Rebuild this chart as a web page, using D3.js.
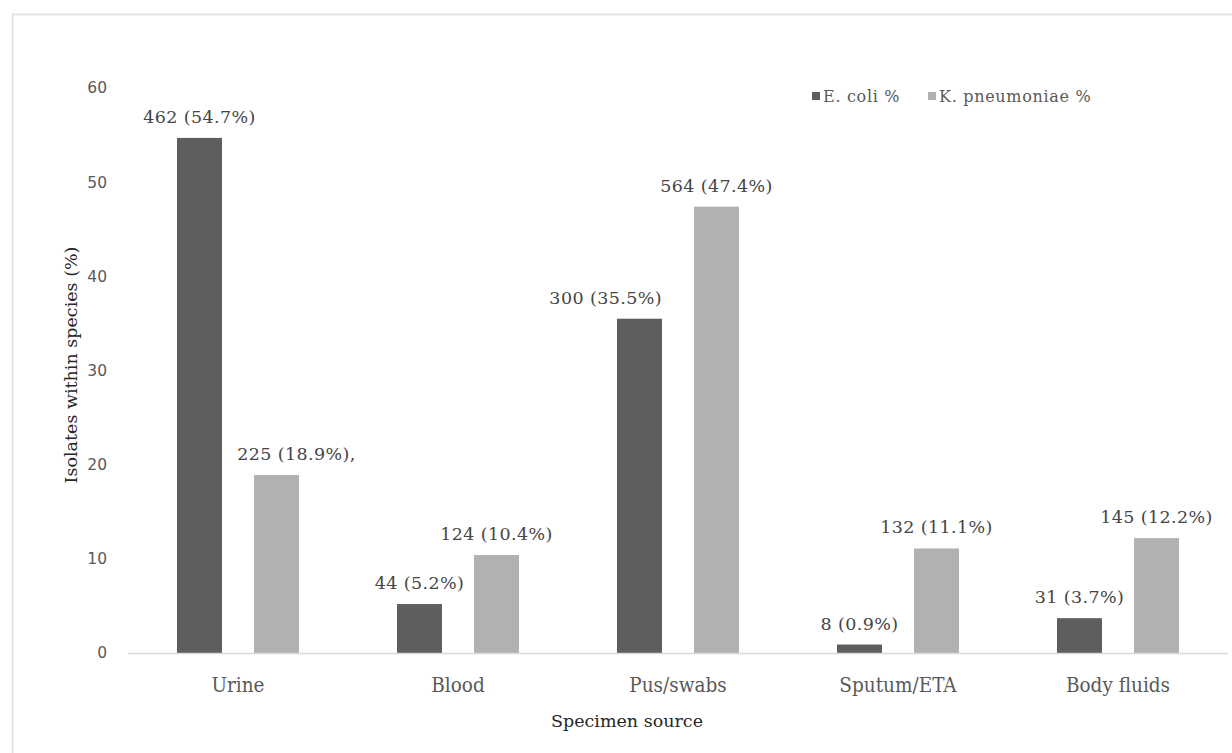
<!DOCTYPE html>
<html>
<head>
<meta charset="utf-8">
<script src="https://cdn.jsdelivr.net/npm/d3@7"></script>
<style>
  html, body { margin: 0; padding: 0; background: #fff; }
  svg { display: block; font-family: "DejaVu Serif", serif; }
</style>
</head>
<body>
<svg id="chart" width="1232" height="753"></svg>
<script>
// Specimen sources and the share of each species' isolates found in them
const categories = ["Urine", "Blood", "Pus/swabs", "Sputum/ETA", "Body fluids"];
const seriesNames = ["E. coli %", "K. pneumoniae %"];
const ecoliPct = [54.7, 5.2, 35.5, 0.9, 3.7];
const kpnPct = [18.9, 10.4, 47.4, 11.1, 12.2];
const ecoliCount = [462, 44, 300, 8, 31];
const kpnCount = [225, 124, 564, 132, 145];
const yTicks = [0, 10, 20, 30, 40, 50, 60];

const colors = ["#5e5e5e", "#b1b1b1"];

const svg = d3.select("#chart");

// outer frame
svg.append("rect")
  .attr("x", 12.5).attr("y", 14.5)
  .attr("width", 1240).attr("height", 760)
  .attr("fill", "none").attr("stroke", "#e3e3e3").attr("stroke-width", 2);

const plot = { left: 128, right: 1228, top: 88, bottom: 653 };

const x0 = d3.scaleBand().domain(categories).range([plot.left, plot.right]).paddingInner(0).paddingOuter(0);
const x1 = d3.scaleBand().domain(seriesNames).range([0, x0.bandwidth()]).paddingInner(0.416).paddingOuter(0.636);
const y = d3.scaleLinear().domain([0, 60]).range([plot.bottom, plot.top]);

// y tick labels (no axis line)
const yAxis = d3.axisLeft(y).tickValues(yTicks).tickSize(0).tickPadding(0);
const yg = svg.append("g").attr("transform", `translate(${plot.left - 21},0)`).call(yAxis);
yg.select(".domain").remove();
yg.selectAll("text")
  .style("font-family", "'DejaVu Sans', sans-serif")
  .style("font-size", "15.5px").attr("fill", "#595959");

// bars
const rows = categories.map((c, i) => ({
  cat: c,
  vals: [
    { s: seriesNames[0], v: ecoliPct[i], n: ecoliCount[i], other: kpnPct[i], suffix: "" },
    { s: seriesNames[1], v: kpnPct[i], n: kpnCount[i], other: ecoliPct[i], suffix: i === 0 ? "," : "" }
  ]
}));

const groups = svg.append("g").selectAll("g").data(rows).join("g")
  .attr("transform", d => `translate(${x0(d.cat)},0)`);

groups.selectAll("rect").data(d => d.vals).join("rect")
  .attr("x", d => x1(d.s))
  .attr("width", x1.bandwidth())
  .attr("y", d => y(d.v))
  .attr("height", d => y(0) - y(d.v))
  .attr("fill", (d, i) => colors[i]);

// value labels; a label that would run into a much taller neighbouring bar
// is right-aligned to its own bar instead of centred
groups.selectAll("text.lbl").data(d => d.vals).join("text")
  .attr("class", "lbl")
  .attr("y", d => y(d.v) - 15)
  .style("font-size", "17.5px")
  .attr("letter-spacing", 0.4)
  .attr("fill", "#454545")
  .text(d => `${d.n} (${d.v}%)${d.suffix}`)
  .each(function (d, i) {
    const t = d3.select(this);
    const w = this.getComputedTextLength();
    const cx = x1(d.s) + x1.bandwidth() / 2;
    const gap = x1.step() - x1.bandwidth();
    const crowded = i === 0 && d.other - d.v > 5 && w / 2 > x1.bandwidth() / 2 + gap;
    if (crowded) {
      t.attr("x", x1(d.s) + x1.bandwidth()).attr("text-anchor", "end");
    } else {
      t.attr("x", cx + (d.suffix ? 20 : 0)).attr("text-anchor", "middle");
    }
  });

// baseline
svg.append("line")
  .attr("x1", plot.left).attr("x2", plot.right)
  .attr("y1", y(0) + 0.5).attr("y2", y(0) + 0.5)
  .attr("stroke", "#d9d9d9").attr("stroke-width", 1.5);

// x category labels
const xAxis = d3.axisBottom(x0).tickSize(0).tickPadding(0);
const xg = svg.append("g").attr("transform", `translate(0,${plot.bottom + 39})`).call(xAxis);
xg.select(".domain").remove();
xg.selectAll("text")
  .style("font-family", "'DejaVu Serif', serif")
  .style("font-stretch", "condensed")
  .style("font-size", "20.5px").attr("fill", "#595959").attr("dy", 0);

// axis titles
svg.append("text")
  .attr("x", 627).attr("y", 727)
  .attr("text-anchor", "middle")
  .style("font-size", "17.5px").attr("fill", "#262626")
  .text("Specimen source");

svg.append("text")
  .attr("transform", `translate(77,365) rotate(-90)`)
  .attr("text-anchor", "middle")
  .style("font-size", "17.5px").attr("fill", "#262626")
  .text("Isolates within species (%)");

// legend
const legend = svg.append("g").attr("transform", "translate(812,97)");
const items = [
  { name: seriesNames[0], x: 0 },
  { name: seriesNames[1], x: 116 }
];
items.forEach((it, i) => {
  legend.append("rect").attr("x", it.x).attr("y", -5).attr("width", 8).attr("height", 8).attr("fill", colors[i]);
  legend.append("text").attr("x", it.x + 11).attr("y", 5)
    .style("font-size", "16px").attr("fill", "#595959")
    .attr("letter-spacing", 0.7)
    .text(it.name);
});
</script>
</body>
</html>
